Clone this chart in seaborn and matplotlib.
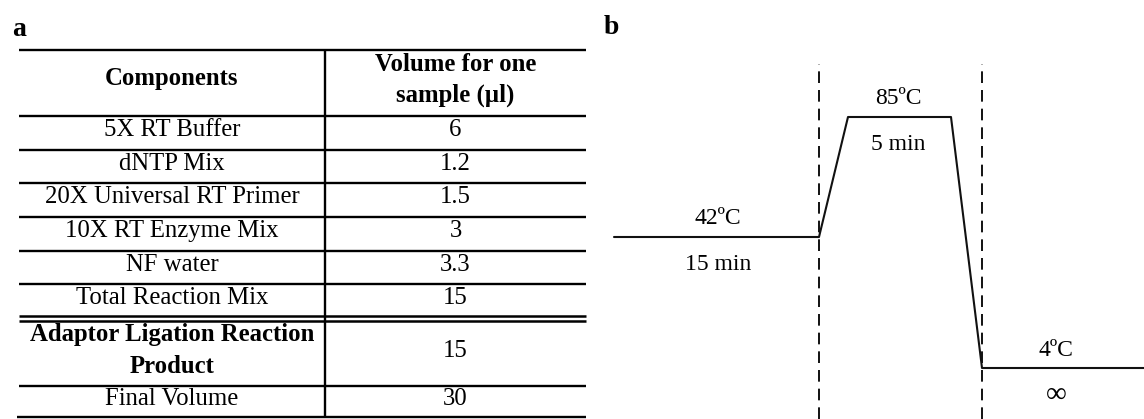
import numpy as np
import pandas as pd
import matplotlib
matplotlib.use("Agg")
import matplotlib.pyplot as plt
import seaborn as sns

# ---------------- data ----------------
components = ["5X RT Buffer", "dNTP Mix", "20X Universal RT Primer",
              "10X RT Enzyme Mix", "NF water", "Total Reaction Mix",
              "Adaptor Ligation Reaction\nProduct", "Final Volume"]
volumes = ["6", "1.2", "1.5", "3", "3.3", "15", "15", "30"]
bold_rows = [False, False, False, False, False, False, True, False]
header = ["Components", "Volume for one\nsample (µl)"]

# thermal profile (schematic time units, temperature in °C)
profile_time = [24, 229, 258, 361, 392, 556]
profile_temp = [42, 42, 85, 85, 4, 4]
step_temps = ["42ºC", "85ºC", "4ºC"]
step_times = ["15 min", "5 min", "∞"]
step_center_time = [128, 308, 466]
step_level = [42, 85, 4]
boundaries = [229, 392]

# ---------------- figure ----------------
sns.set_theme(style="white")
plt.rcParams["font.family"] = ["Liberation Serif", "DejaVu Serif"]
plt.rcParams["text.color"] = "black"
W, H = 1144, 419
fig = plt.figure(figsize=(W / 100, H / 100), dpi=100)

# ---- panel a: table (pixel layout axes) ----
axa = fig.add_axes([0, 0, 1, 1])
axa.set_xlim(0, W)
axa.set_ylim(H, 0)
axa.axis("off")

x_left, x_mid, x_right = 19, 325, 586
row_edges = [50, 116, 150, 183, 217, 251, 284, 317, 386, 417]
lw_tab = 1.7
for i, y in enumerate(row_edges):
    if i == 7:
        axa.hlines([y - 1.5, y + 4], x_left, x_right, color="black", lw=1.8)
    else:
        axa.hlines(y, x_left - (2 if i == len(row_edges) - 1 else 0), x_right,
                   color="black", lw=lw_tab)
axa.vlines(x_mid, row_edges[0], row_edges[-1], color="black", lw=lw_tab)

cx1 = (x_left + x_mid) / 2
cx2 = (x_mid + x_right) / 2
fs_tab = 17.8
axa.text(cx1, 78, header[0], ha="center", va="center", fontsize=fs_tab,
         fontweight="bold", color="black")
axa.text(cx2, 80, header[1], ha="center", va="center", fontsize=fs_tab,
         fontweight="bold", linespacing=1.45, color="black")
for i, (c, v, b) in enumerate(zip(components, volumes, bold_rows)):
    top = row_edges[i + 1] + (4 if i + 1 == 7 else 0)
    bot = row_edges[i + 2]
    yc = (top + bot) / 2 - 3
    axa.text(cx1, yc, c, ha="center", va="center", fontsize=fs_tab,
             fontweight="bold" if b else "normal", linespacing=1.5,
             color="black")
    axa.text(cx2, yc, v, ha="center", va="center", fontsize=fs_tab,
             color="black")

axa.text(12, 30, "a", ha="left", va="center", fontsize=20, fontweight="bold",
         color="black")
axa.text(604, 28, "b", ha="left", va="center", fontsize=20, fontweight="bold",
         color="black")

# ---- panel b: thermal profile ----
x0 = 590
axb = fig.add_axes([x0 / W, 0, (W - x0) / W, 1])
axb.patch.set_alpha(0)
# piecewise-linear schematic temperature scale
T = np.array([-100.0, 4.0, 42.0, 85.0, 200.0])
P = np.array([-358.5, 0.0, 131.0, 251.0, 571.9])
fwd = lambda t: np.interp(t, T, P)
inv = lambda p: np.interp(p, P, T)
axb.set_yscale("function", functions=(fwd, inv))
axb.set_xlim(0, W - x0)
axb.set_ylim(inv(368 - 419), inv(368))

df = pd.DataFrame({"time": profile_time, "temp": profile_temp})
sns.lineplot(data=df, x="time", y="temp", ax=axb, color="#111111", lw=1.5,
             sort=False, estimator=None)
for bx in boundaries:
    axb.axvline(bx, ymin=0, ymax=(419 - 64) / 419, color="#111111", lw=1.4,
                dashes=(6, 3.6))

fs_b = 17
for cx, lvl, ts, tm in zip(step_center_time, step_level, step_temps, step_times):
    axb.annotate(ts, (cx, lvl), xytext=(0, 18), textcoords="offset pixels",
                 ha="center", va="center", fontsize=fs_b, color="black")
    axb.annotate(tm, (cx, lvl), xytext=(0, -27), textcoords="offset pixels",
                 ha="center", va="center",
                 fontsize=fs_b + (4 if tm == "∞" else 0), color="black")
axb.axis("off")

fig.savefig("out.png", dpi=100)
